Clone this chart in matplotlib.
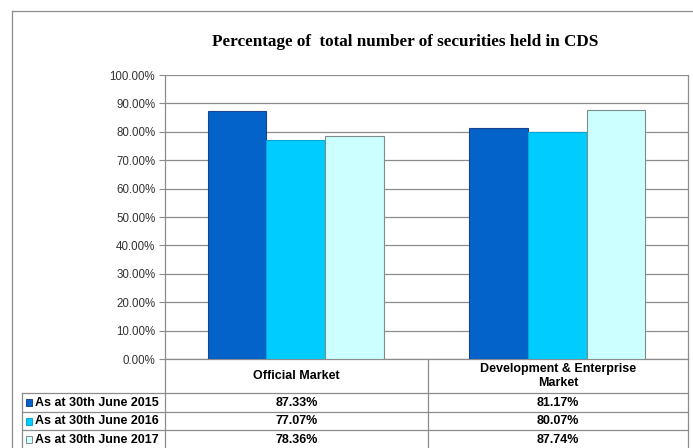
import matplotlib.pyplot as plt
import numpy as np
from matplotlib.patches import Rectangle
from matplotlib.lines import Line2D

markets = ["Official Market", "Development & Enterprise\nMarket"]
series_labels = ["As at 30th June 2015", "As at 30th June 2016", "As at 30th June 2017"]
pct_2015 = [87.33, 81.17]
pct_2016 = [77.07, 80.07]
pct_2017 = [78.36, 87.74]

face_colors = ["#0463c9", "#00ccff", "#ccffff"]
edge_colors = ["#17438f", "#0aa6d6", "#7f8c8c"]
grid_gray = "#8c8c8c"

W, H = 693, 448
fig = plt.figure(figsize=(W / 100, H / 100), dpi=100)


def fx(x):
    return x / W


def fy(y):
    return 1 - y / H


def hline(y, x0, x1, **kw):
    fig.add_artist(Line2D([fx(x0), fx(x1)], [fy(y), fy(y)], transform=fig.transFigure,
                          color=grid_gray, lw=0.9, **kw))


def vline(x, y0, y1, **kw):
    fig.add_artist(Line2D([fx(x), fx(x)], [fy(y0), fy(y1)], transform=fig.transFigure,
                          color=grid_gray, lw=0.9, **kw))


# outer chart frame
hline(11, 12, W)
vline(12, 11, H)

left, right, top, bottom = 165, 688, 75, 359
ax = fig.add_axes([fx(left), fy(bottom), fx(right - left), (bottom - top) / H])

all_series = [pct_2015, pct_2016, pct_2017]
x = np.arange(len(markets))
width = 0.224
for i, vals in enumerate(all_series):
    ax.bar(x + (i - 1) * width, vals, width, color=face_colors[i],
           edgecolor=edge_colors[i], linewidth=0.8, zorder=3)

ax.set_xlim(-0.5, 1.5)
ax.set_ylim(0, 100)
ax.set_yticks(np.arange(0, 101, 10))
ax.set_yticklabels([f"{v:.2f}%" for v in np.arange(0, 101, 10)], fontsize=8.3,
                   family="Liberation Sans", color="#333333")
ax.set_xticks([])
ax.yaxis.grid(True, color=grid_gray, lw=0.9, zorder=0)
ax.tick_params(axis="y", length=4, color=grid_gray, pad=3)
ax.spines["top"].set_visible(False)
for side in ["left", "right", "bottom"]:
    ax.spines[side].set_color(grid_gray)
    ax.spines[side].set_linewidth(0.9)

fig.text(fx(405), fy(42), "Percentage of  total number of securities held in CDS",
         ha="center", va="center", fontsize=12.3, fontweight="bold",
         family="Liberation Serif")

# data table under the plot
row_y = [393, 412, 430, 449]
col_x = [left, 428, right]
for y in row_y[:-1]:
    hline(y, 22, right)
vline(22, row_y[0], H)
for cx in col_x:
    vline(cx, bottom, H)

col_centers = [(col_x[j] + col_x[j + 1]) / 2 for j in range(len(markets))]
for j, name in enumerate(markets):
    fig.text(fx(col_centers[j]), fy((bottom + row_y[0]) / 2), name, ha="center",
             va="center", fontsize=9, fontweight="bold", family="Liberation Sans",
             linespacing=1.25)

for i, vals in enumerate(all_series):
    yc = (row_y[i] + row_y[i + 1]) / 2
    fig.add_artist(Rectangle((fx(26), fy(yc + 3.5)), 6 / W, 7 / H, transform=fig.transFigure,
                             facecolor=face_colors[i], edgecolor=edge_colors[i], lw=0.7))
    fig.text(fx(35), fy(yc), series_labels[i], ha="left", va="center", fontsize=9,
             fontweight="bold", family="Liberation Sans")
    for j, v in enumerate(vals):
        fig.text(fx(col_centers[j]), fy(yc), f"{v:.2f}%", ha="center", va="center",
                 fontsize=9, fontweight="bold", family="Liberation Sans")

fig.savefig("out.png", dpi=100)
